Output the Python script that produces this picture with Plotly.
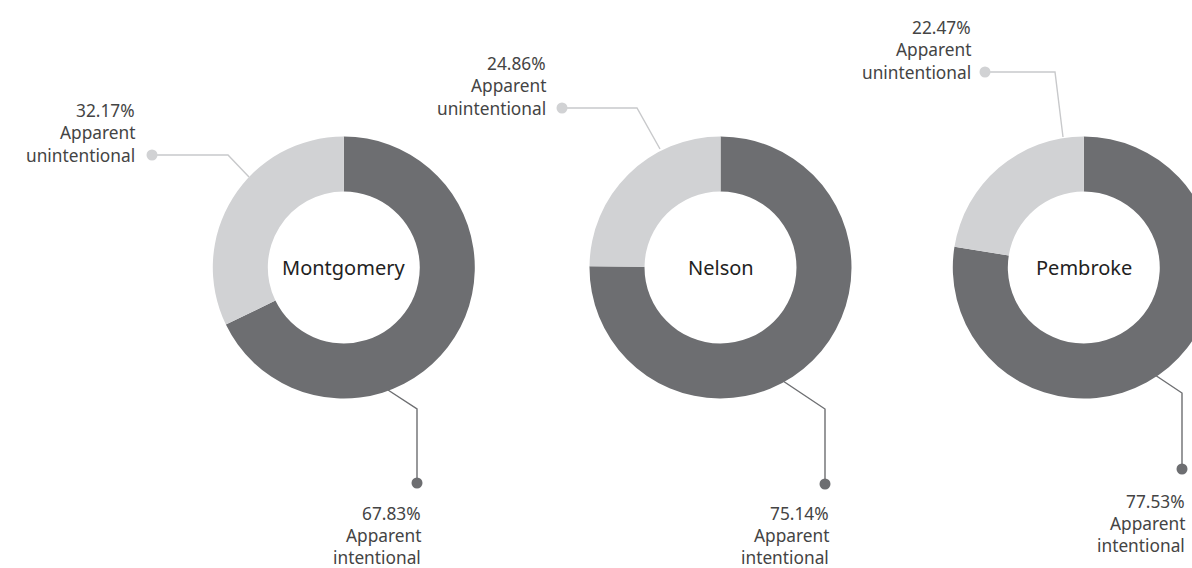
import plotly.graph_objects as go

# ---- data ----
counties = ["Montgomery", "Nelson", "Pembroke"]
categories = ["Apparent intentional", "Apparent unintentional"]
intentional = [67.83, 75.14, 77.53]
unintentional = [32.17, 24.86, 22.47]

# ---- layout constants (pixels) ----
W, H = 1222, 568
R_OUT = 131
HOLE = 0.58
centers = [(343.8, 267.5), (720.5, 267.5), (1083.8, 267.5)]
DARK = "#6d6e71"
LIGHT = "#d1d2d4"
TXT = "#444444"
FONT = "Noto Sans"
LBL_SIZE = 17.3

# leader geometry per county
leaders = [
    dict(u=[(152, 155), (228, 155), (249, 177)], ut=(137, 155),
         i=[(388, 390), (417, 409), (417, 483)], it=(423, 513)),
    dict(u=[(562, 108), (637, 108), (660, 149)], ut=(548, 108),
         i=[(783, 381), (825, 409), (825, 484)], it=(831, 513)),
    dict(u=[(985, 72), (1055, 72), (1063, 137)], ut=(973, 72),
         i=[(1155, 375), (1182, 393), (1182, 469)], it=(1187, 501)),
]
LINE_GAP = 22.2

fig = go.Figure()

for k, name in enumerate(counties):
    cx, cy = centers[k]
    fig.add_trace(go.Pie(
        labels=categories,
        values=[intentional[k], unintentional[k]],
        hole=HOLE,
        sort=False,
        direction="clockwise",
        rotation=0,
        marker=dict(colors=[DARK, LIGHT], line=dict(width=0)),
        textinfo="none",
        hoverinfo="label+percent",
        showlegend=False,
        domain=dict(x=[(cx - R_OUT) / W, (cx + R_OUT) / W],
                    y=[(H - cy - R_OUT) / H, (H - cy + R_OUT) / H]),
    ))

annotations = []
for k, name in enumerate(counties):
    cx, cy = centers[k]
    annotations.append(dict(x=cx, y=cy, xref="x", yref="y", text=name,
                            showarrow=False, xanchor="center", yanchor="middle",
                            font=dict(family=FONT, size=20, color="#222222")))
    L = leaders[k]
    for key, col, dot_idx in (("u", LIGHT, 0), ("i", DARK, -1)):
        pts = L[key]
        fig.add_trace(go.Scatter(
            x=[p[0] for p in pts], y=[p[1] for p in pts], mode="lines",
            line=dict(color=col if key == "i" else "#c8c9cb", width=1.4),
            hoverinfo="skip", showlegend=False))
        dx, dy = pts[dot_idx]
        fig.add_trace(go.Scatter(
            x=[dx], y=[dy], mode="markers",
            marker=dict(color=col, size=11, line=dict(width=0)),
            hoverinfo="skip", showlegend=False))
    tx, ty = L["ut"]
    lines_u = [f"{unintentional[k]:.2f}%", "Apparent", "unintentional"]
    for j, t in enumerate(lines_u):
        annotations.append(dict(x=tx, y=ty - (2 - j) * LINE_GAP, xref="x", yref="y",
                                text=t, showarrow=False, xanchor="right", yanchor="middle",
                                font=dict(family=FONT, size=LBL_SIZE, color=TXT)))
    tx, ty = L["it"]
    lines_i = [f"{intentional[k]:.2f}%", "Apparent", "intentional"]
    for j, t in enumerate(lines_i):
        annotations.append(dict(x=tx, y=ty + j * LINE_GAP, xref="x", yref="y",
                                text=t, showarrow=False, xanchor="right", yanchor="middle",
                                font=dict(family=FONT, size=LBL_SIZE, color=TXT)))

fig.update_layout(
    width=W, height=H,
    margin=dict(l=0, r=0, t=0, b=0),
    paper_bgcolor="white", plot_bgcolor="white",
    xaxis=dict(range=[0, W], visible=False, fixedrange=True),
    yaxis=dict(range=[H, 0], visible=False, fixedrange=True),
    annotations=annotations,
    showlegend=False,
)

fig.write_html("out.html",
               config={"displayModeBar": False},
               post_script="document.body.style.margin='0';document.body.style.overflow='hidden';"
                           "document.documentElement.style.overflow='hidden';")
